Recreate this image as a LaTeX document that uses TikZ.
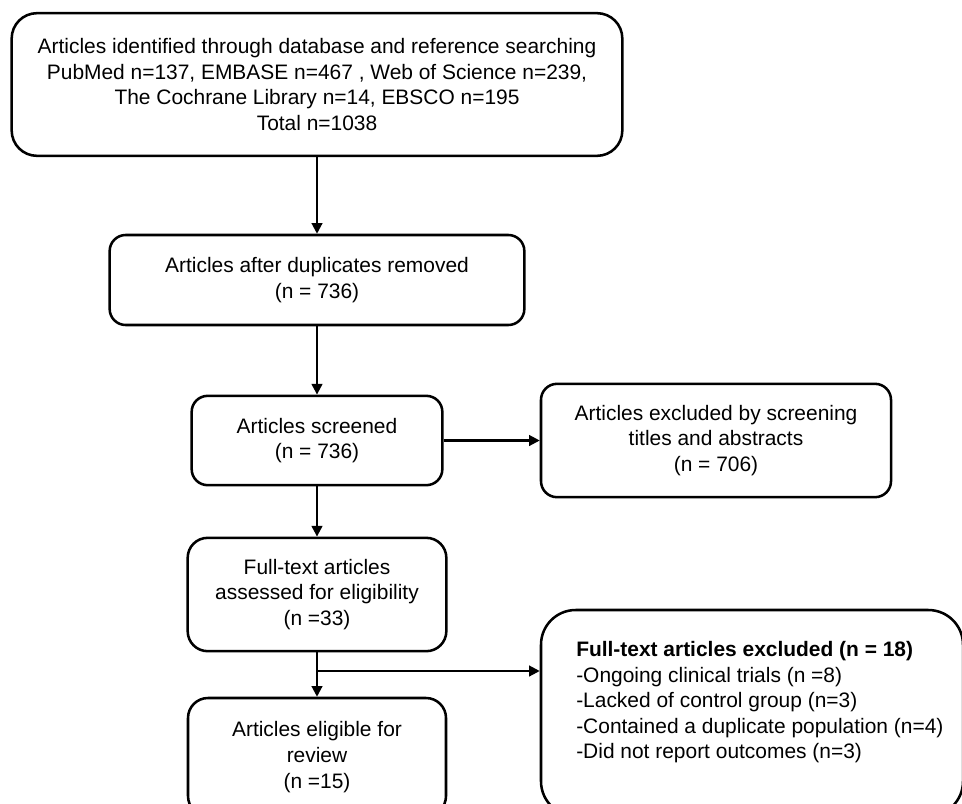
\documentclass[tikz,border=0pt]{standalone}
\usepackage{fontspec}
\setmainfont{Liberation Sans}
\usetikzlibrary{positioning,arrows.meta}

\begin{document}
\begin{tikzpicture}[x=0.75pt,y=-0.75pt,line width=1.6pt,>={Triangle[length=8pt,width=8pt]},b/.style={draw,line width=1.9pt,rounded corners=12pt,align=center,font=\fontsize{15.7pt}{19.2pt}\selectfont,inner sep=0pt}]
\useasboundingbox (0,0) rectangle (962,803);
\clip (0,0) rectangle (962,803);
\node[b,minimum width=458pt,minimum height=107pt,rounded corners=19pt] (ident) at (317,84.5) {Articles identified through database and reference searching\\PubMed n=137, EMBASE n=467 , Web of Science n=239,\\The Cochrane Library n=14, EBSCO n=195\\Total n=1038};
\node[b,minimum width=311pt,minimum height=67.5pt] (dup) at (317,280) {Articles after duplicates removed\\(n = 736)};
\node[b,minimum width=188pt,minimum height=67pt] (scr) at (317,440.5) {Articles screened\\(n = 736)};
\node[b,minimum width=262.5pt,minimum height=85pt] (exA) at (716,440.5) {Articles excluded by screening\\titles and abstracts\\(n = 706)};
\node[b,minimum width=194pt,minimum height=85pt,rounded corners=15pt] (full) at (317,594.5) {Full-text articles\\assessed for eligibility\\(n =33)};
\node[b,minimum width=193.5pt,minimum height=88.5pt,rounded corners=15pt] (elig) at (317,757) {Articles eligible for\\review\\(n =15)};
\node[b,minimum width=316.5pt,minimum height=154.5pt,rounded corners=26pt] (exB) at (752,713) {};
\node[b,draw=none,align=left,anchor=north west] (exBtxt) at (575,640) {\textbf{Full-text articles excluded (n = 18)}\\-Ongoing clinical trials (n =8)\\-Lacked of control group (n=3)\\-Contained a duplicate population (n=4)\\-Did not report outcomes (n=3)};
\draw[->] (ident) -- (dup); \draw[->] (dup) -- (scr); \draw[->] (scr) -- (exA);
\draw[->] (scr) -- (full); \draw[->] (full) -- (elig);
\coordinate (split) at (317,671); \draw[->] (split) -- (split -| exB.west);
\end{tikzpicture}
\end{document}
